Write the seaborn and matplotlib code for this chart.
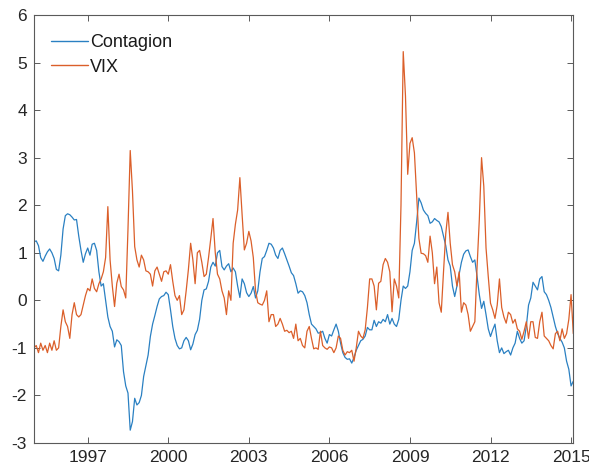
import numpy as np
import pandas as pd
import matplotlib
matplotlib.use("Agg")
import matplotlib.pyplot as plt
import seaborn as sns

# ---- data (monthly, starting Jan 1995) ----
start_year = 1995
series_names = ["Contagion", "VIX"]
x_ticks = [1997, 2000, 2003, 2006, 2009, 2012, 2015]
y_ticks = [-3, -2, -1, 0, 1, 2, 3, 4, 5, 6]

contagion = [
    1.23, 1.25, 1.15, 0.9, 0.82, 0.93, 1.02, 1.08, 1.0, 0.88,
    0.65, 0.62, 0.95, 1.5, 1.78, 1.82, 1.8, 1.75, 1.69, 1.7,
    1.35, 1.05, 0.8, 0.98, 1.1, 0.95, 1.18, 1.2, 1.05, 0.6,
    0.3, 0.35, 0.0, -0.35, -0.55, -0.65, -0.98, -0.83, -0.87, -0.95,
    -1.5, -1.8,
    -1.95, -2.73, -2.55, -2.06, -2.2, -2.15, -2.0, -1.6, -1.37, -1.15,
    -0.76, -0.5, -0.32, -0.13, 0.03, 0.08, 0.1, 0.17, 0.12, -0.2,
    -0.55, -0.8, -0.95, -1.02, -1.0, -0.85, -0.78, -0.85, -1.04, -0.92,
    -0.72, -0.63, -0.4, 0.0, 0.22, 0.24, 0.4, 0.7, 0.8,
    0.72, 1.0, 1.05, 0.71, 0.64, 0.72, 0.77, 0.6, 0.68, 0.6,
    0.3, 0.06, 0.45, 0.35, 0.16, 0.08, 0.15, 0.29, 0.05, 0.2,
    0.6, 0.88, 0.92, 1.05, 1.2, 1.18, 1.1, 0.95, 0.88, 1.05,
    1.1, 0.98, 0.85, 0.72, 0.58, 0.52, 0.35, 0.15, 0.2, 0.18,
    0.1, -0.05, -0.3, -0.5, -0.55, -0.6, -0.69, -0.68, -0.65, -0.8,
    -0.9, -0.72, -0.75, -0.62, -0.5, -0.65, -0.9, -1.1, -1.2, -1.24,
    -1.23, -1.32, -1.2, -1.05, -0.95, -0.85, -0.82, -0.75, -0.57, -0.62,
    -0.62, -0.42, -0.55, -0.45, -0.48, -0.4, -0.45, -0.3, -0.5, -0.38,
    -0.5, -0.55, -0.4, 0.0, 0.3, 0.25, 0.3, 0.6, 1.05, 1.2,
    1.65, 2.15, 2.05, 1.9, 1.83, 1.78, 1.62, 1.65, 1.72, 1.68,
    1.65, 1.55, 1.35, 1.15, 0.85, 0.72, 0.3, 0.08, 0.3, 0.55,
    0.8, 0.97, 1.04, 1.06, 0.92, 0.8, 0.85, 0.5, 0.12, -0.17,
    -0.02,
    -0.3, -0.6, -0.76, -0.62, -0.5, -0.85, -1.1, -1.0, -1.12, -1.08,
    -1.05, -1.15, -1.0, -0.9, -0.65, -0.8, -0.9, -0.85, -0.55, -0.1,
    0.05, 0.38, 0.3, 0.22, 0.45, 0.5, 0.18, 0.12, 0.0, -0.15,
    -0.35, -0.55, -0.7, -0.8, -0.88, -1.0, -1.28, -1.45, -1.8, -1.7,
]

vix = [
    -1.0, -0.95, -1.1, -0.9, -1.05, -0.95, -1.1, -0.9, -1.05, -0.85,
    -1.05, -1.0, -0.55, -0.2, -0.45, -0.55, -0.8, -0.3, -0.05, -0.3,
    -0.35, -0.3, -0.1, 0.1, 0.25, 0.2, 0.45, 0.25, 0.18, 0.35,
    0.45, 0.6, 0.9, 1.97, 0.85, 0.3, -0.13, 0.36, 0.55, 0.29,
    0.22, 0.05,
    1.5, 3.15, 2.3, 1.13, 0.85, 0.7, 0.95, 0.85, 0.62, 0.6,
    0.55, 0.3, 0.62, 0.7, 0.55, 0.4, 0.6, 0.62, 0.55, 0.75,
    0.4, 0.1, 0.0, 0.1, -0.3, -0.2, 0.2, 0.65, 1.2, 0.85,
    0.35, 1.0, 1.05, 0.8, 0.5, 0.55, 0.9, 1.3, 1.72,
    1.0, 0.55, 0.45, 0.2, 0.05, -0.3, 0.2, 0.0, 1.2, 1.6,
    1.9, 2.58, 1.8, 1.06, 1.2, 1.45, 1.25, 0.9, 0.2, -0.05,
    -0.08, -0.1, 0.0, 0.2, -0.45, -0.3, -0.3, -0.55, -0.5, -0.38,
    -0.5, -0.65, -0.63, -0.68, -0.65, -0.8, -0.5, -0.85, -0.8, -0.95,
    -1.0, -0.65, -0.55, -0.8, -1.02, -1.0, -1.03, -0.65, -0.95, -1.0,
    -1.03, -0.98, -1.0, -1.1, -1.0, -0.75, -0.8, -1.05, -1.15, -1.08,
    -1.1, -1.05, -1.28, -1.0, -0.65, -0.75, -0.8, -0.62, -0.15, 0.45,
    0.45, 0.3, -0.2, 0.36, 0.4, 0.75, 0.88, 0.8, 0.6, -0.24,
    0.45, 0.3, 0.05, 2.0, 5.23, 4.3, 2.65, 3.3, 3.42, 3.1,
    2.2, 1.3, 0.99, 0.98, 0.94, 0.8, 1.35, 1.0, 0.35, 0.7,
    -0.05, -0.25, 0.6, 1.4, 1.85, 1.2, 0.75, 0.6, 0.3, 0.6,
    -0.25, -0.05, -0.1, -0.3, -0.65, -0.55, -0.45, 0.7, 1.7, 3.0,
    2.4,
    1.1, 0.5, -0.06, -0.2, -0.38, -0.1, 0.45, -0.15, -0.35, -0.48,
    -0.25, -0.3, -0.48, -0.4, -0.6, -0.65, -0.82, -0.65, -0.45, -0.8,
    -0.45, -0.45, -0.78, -0.8, -0.45, -0.25, -0.75, -0.8, -0.85, -0.95,
    -1.02, -0.7, -0.65, -0.85, -0.6, -0.8, -0.7, -0.4, 0.12, -0.7,
]

n = min(len(contagion), len(vix))
contagion = contagion[:n]
vix = vix[:n]
t = start_year + np.arange(n) / 12.0

df = pd.DataFrame({
    "t": np.concatenate([t, t]),
    "value": np.array(contagion + vix),
    "series": [series_names[0]] * n + [series_names[1]] * n,
})

sns.set_theme(style="white")
plt.rcParams["font.family"] = ["Liberation Sans", "DejaVu Sans"]

fig = plt.figure(figsize=(5.89, 4.72), dpi=100)
ax = fig.add_axes([34 / 589, 1 - 443 / 472, (573.3 - 34) / 589, (443 - 15) / 472])

sns.lineplot(data=df, x="t", y="value", hue="series",
             palette=["#2a80c2", "#db5f2a"], linewidth=0.9, ax=ax,
             legend=True)

ax.set_xlim(t[0], t[-1])
ax.set_ylim(-3, 6)
ax.set_xticks(x_ticks)
ax.set_xticklabels([str(v) for v in x_ticks])
ax.set_yticks(y_ticks)
ax.set_yticklabels([str(v) for v in y_ticks])
ax.set_xlabel("")
ax.set_ylabel("")

for s in ax.spines.values():
    s.set_color("#5a5a5a")
    s.set_linewidth(0.8)
    s.set_visible(True)
ax.tick_params(direction="in", length=4.5, width=0.7, color="#5a5a5a",
               top=True, right=True, bottom=True, left=True,
               labelsize=12.5, labelcolor="#262626", pad=5)

handles, labels = ax.get_legend_handles_labels()
leg = ax.legend(handles, labels, loc="upper left", frameon=False,
                fontsize=13, handlelength=2.0, handletextpad=0.15,
                labelspacing=0.42, borderaxespad=0.0,
                bbox_to_anchor=(0.019, 0.972))
for text in leg.get_texts():
    text.set_color("#1a1a1a")
for line in leg.get_lines():
    line.set_linewidth(1.0)

fig.savefig("out.png", dpi=100)
